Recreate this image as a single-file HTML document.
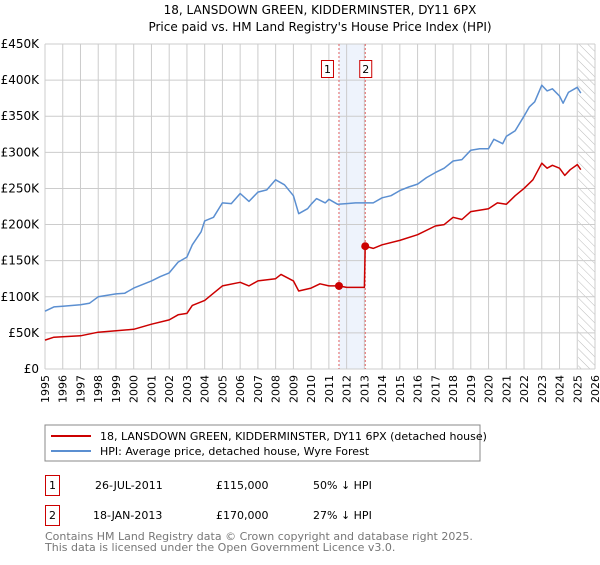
<!DOCTYPE html>
<html><head><meta charset="utf-8"><style>
body{margin:0;background:#fff;font-family:"Liberation Sans","DejaVu Sans",sans-serif}
svg text{font-family:"DejaVu Sans","Liberation Sans",sans-serif}
</style></head><body>
<svg id="c" width="600" height="560" viewBox="0 0 600 560" xmlns="http://www.w3.org/2000/svg">
<text x="320" y="14" text-anchor="middle" font-size="12" fill="#000">18, LANSDOWN GREEN, KIDDERMINSTER, DY11 6PX</text>
<text x="320" y="31" text-anchor="middle" font-size="12" fill="#000">Price paid vs. HM Land Registry's House Price Index (HPI)</text>
<g id="grid"></g>
<g id="marks"></g>
<g id="axes"></g>
<rect x="45" y="425" width="435" height="36" fill="#fff" stroke="#888"/>
<line x1="51" y1="436" x2="91" y2="436" stroke="#cc0000" stroke-width="2"/>
<text x="100" y="440" font-size="11">18, LANSDOWN GREEN, KIDDERMINSTER, DY11 6PX (detached house)</text>
<line x1="51" y1="451" x2="91" y2="451" stroke="#5b8fd1" stroke-width="2"/>
<text x="100" y="455" font-size="11">HPI: Average price, detached house, Wyre Forest</text>
<g font-size="11">
<rect x="45.5" y="475.5" width="14" height="20" fill="#fff" stroke="#cc0000"/>
<text x="52.5" y="489" text-anchor="middle">1</text>
<text x="95" y="489">26-JUL-2011</text>
<text x="216" y="489">£115,000</text>
<text x="313" y="489">50% ↓ HPI</text>
<rect x="45.5" y="505.5" width="14" height="20" fill="#fff" stroke="#cc0000"/>
<text x="52.5" y="519" text-anchor="middle">2</text>
<text x="93" y="519">18-JAN-2013</text>
<text x="216" y="519">£170,000</text>
<text x="313" y="519">27% ↓ HPI</text>
</g>
<text x="45" y="540" font-size="11" fill="#777">Contains HM Land Registry data © Crown copyright and database right 2025.</text>
<text x="45" y="551" font-size="11" fill="#777">This data is licensed under the Open Government Licence v3.0.</text>
</svg>
<script>
const hpiYears=[1995,1995.5,1996,1997,1997.5,1998,1999,1999.5,2000,2001,2001.5,2002,2002.5,2003,2003.3,2003.8,2004,2004.5,2005,2005.5,2006,2006.5,2007,2007.5,2008,2008.5,2009,2009.3,2009.8,2010,2010.3,2010.8,2011,2011.5,2012,2012.5,2013,2013.5,2014,2014.5,2015,2015.5,2016,2016.5,2017,2017.5,2018,2018.5,2019,2019.5,2020,2020.3,2020.8,2021,2021.5,2022,2022.3,2022.6,2023,2023.3,2023.6,2024,2024.2,2024.5,2025,2025.2];
const hpiValues=[80,86,87,89,91,100,104,105,112,122,128,133,148,155,172,190,205,210,230,229,243,232,245,248,262,255,240,215,222,228,236,230,235,228,229,230,230,230,237,240,247,252,256,265,272,278,288,290,303,305,305,318,312,322,330,350,363,370,393,385,388,378,368,383,390,382];
const priceYears=[1995,1995.5,1997,1998,2000,2001,2002,2002.5,2003,2003.3,2004,2004.5,2005,2006,2006.5,2007,2008,2008.3,2009,2009.3,2010,2010.5,2011,2011.57,2012,2013.0,2013.05,2013.5,2014,2015,2016,2017,2017.5,2018,2018.5,2019,2020,2020.5,2021,2021.5,2022,2022.5,2023,2023.3,2023.6,2024,2024.3,2024.6,2025,2025.2];
const priceValues=[40,44,46,51,55,62,68,75,77,88,95,105,115,120,115,122,125,131,122,108,112,118,115,115,113,113,170,167,172,178,186,198,200,210,207,218,222,230,228,240,250,262,285,278,282,278,268,276,283,276];
const saleYears=[2011.57,2013.05];
const saleValues=[115,170];
const saleLabels=["1","2"];
const yTicks=[0,50,100,150,200,250,300,350,400,450];
const yTickLabels=["£0","£50K","£100K","£150K","£200K","£250K","£300K","£350K","£400K","£450K"];
const xTicks=[1995,1996,1997,1998,1999,2000,2001,2002,2003,2004,2005,2006,2007,2008,2009,2010,2011,2012,2013,2014,2015,2016,2017,2018,2019,2020,2021,2022,2023,2024,2025,2026];

const X0=45,X1=595,Y0=369,Y1=44;
const xs=y=>X0+(y-1995)/(2026-1995)*(X1-X0);
const ys=v=>Y0-(v/450)*(Y0-Y1);
const NS="http://www.w3.org/2000/svg";
function mk(tag,attrs,parent){const e=document.createElementNS(NS,tag);for(const k in attrs)e.setAttribute(k,attrs[k]);parent.appendChild(e);return e;}
const grid=document.getElementById('grid'),marks=document.getElementById('marks'),axes=document.getElementById('axes');
// shaded band between sales
let band=mk('rect',{x:xs(saleYears[0]),y:Y1,width:xs(saleYears[1])-xs(saleYears[0]),height:Y0-Y1,fill:'#eef3fc'},grid);


// hatch future
const defs=mk('defs',{},grid);
const pat=mk('pattern',{id:'h',width:6,height:6,patternUnits:'userSpaceOnUse',patternTransform:'rotate(-45)'},defs);
mk('line',{x1:0,y1:0,x2:0,y2:6,stroke:'#bbb','stroke-width':1},pat);
let hatch=mk('rect',{x:xs(2025.05),y:Y1,width:X1-xs(2025.05),height:Y0-Y1,fill:'url(#h)'},grid);


xTicks.forEach(t=>{
 let l=mk('line',{x1:xs(t),x2:xs(t),y1:Y1,y2:Y0,stroke:'#ccc','stroke-width':1},grid);
 
 
 let tx=mk('text',{x:0,y:0,'font-size':11,'text-anchor':'end',transform:`translate(${xs(t)+4},${Y0+6}) rotate(-90)`},axes);
 tx.textContent=t;
 
 
});
yTicks.forEach((t,i)=>{
 let l=mk('line',{x1:X0,x2:X1,y1:ys(t),y2:ys(t),stroke:'#ccc','stroke-width':1},grid);
 
 
 let tx=mk('text',{x:X0-6,y:ys(t)+4,'font-size':12,'text-anchor':'end'},axes);
 tx.textContent=yTickLabels[i];
 
 
});
saleYears.forEach((s,i)=>{
 let l=mk('line',{x1:xs(s),x2:xs(s),y1:Y1,y2:Y0,stroke:'#e06060','stroke-width':1,'stroke-dasharray':'2,2'},grid);
 
 
 let r=mk('rect',{x:xs(s)-(i==0?18:6)+0.5,y:60.5,width:12,height:17,fill:'#fff',stroke:'#cc0000'},marks);
 
 
 let t=mk('text',{x:xs(s)-(i==0?12:0)+0.5,y:73,'font-size':11,'text-anchor':'middle'},marks);
 t.textContent=saleLabels[i];
 
 
});
function path(xv,yv,color,name){
 const d=xv.map((x,i)=>(i?'L':'M')+xs(x).toFixed(1)+','+ys(yv[i]).toFixed(1)).join(' ');
 const p=mk('path',{d:d,fill:'none',stroke:color,'stroke-width':1.5,'stroke-linejoin':'round'},marks);
 
 
}
path(hpiYears,hpiValues,'#5b8fd1','hpi-line');
path(priceYears,priceValues,'#cc0000','price-paid-line');
saleYears.forEach((s,i)=>{
 const c=mk('circle',{cx:xs(s),cy:ys(saleValues[i]),r:4,fill:'#cc0000'},marks);
 
 
});
</script>
</body></html>
